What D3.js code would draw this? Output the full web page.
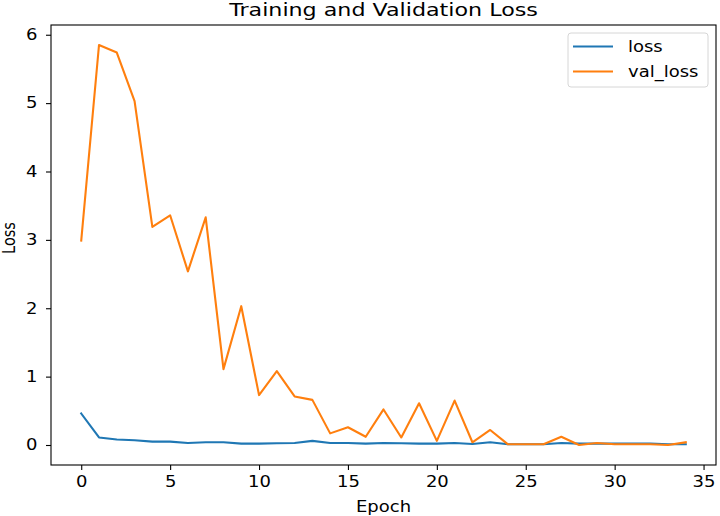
<!DOCTYPE html>
<html>
<head>
<meta charset="utf-8">
<script src="https://cdn.jsdelivr.net/npm/d3@7"></script>
<style>
  body { margin: 0; background: #fff; }
  svg { font-family: "DejaVu Sans", sans-serif; }
</style>
</head>
<body>
<svg width="720" height="516"></svg>
<script>
const epochs = d3.range(0, 35);
const loss = [0.46, 0.11, 0.08, 0.07, 0.05, 0.05, 0.03, 0.04, 0.04, 0.02,
  0.02, 0.025, 0.03, 0.06, 0.03, 0.03, 0.02, 0.03, 0.025, 0.02,
  0.02, 0.03, 0.015, 0.04, 0.01, 0.01, 0.01, 0.03, 0.02, 0.02,
  0.02, 0.02, 0.02, 0.01, 0.01];
const valLoss = [2.99, 5.85, 5.74, 5.03, 3.19, 3.36, 2.54, 3.33, 1.11, 2.03,
  0.73, 1.08, 0.71, 0.66, 0.17, 0.26, 0.12, 0.52, 0.11, 0.61,
  0.06, 0.65, 0.04, 0.22, 0.01, 0.01, 0.01, 0.12, 0.0, 0.03,
  0.01, 0.01, 0.01, 0.0, 0.04];
const xTicks = [0, 5, 10, 15, 20, 25, 30, 35];
const yTicks = [0, 1, 2, 3, 4, 5, 6];
const seriesNames = ['loss', 'val_loss'];
const colors = ['#1f77b4', '#ff7f0e'];

const svg = d3.select('svg');

marginLeft = 51
marginRight = 4
marginTop = 25
marginBottom = 51
width = 720
height = 516
stretch = 1.2 // the picture is a bit wider than the text it was drawn with

// matplotlib style 5% padding around the data
const xPad = (34 - 0) * 0.05;
const yMin = 0, yMax = 5.85;
const yPad = (yMax - yMin) * 0.05;

const x = d3.scaleLinear()
  .domain([0 - xPad, 34 + xPad])
  .range([marginLeft, width - marginRight]);
const y = d3.scaleLinear()
  .domain([yMin - yPad, yMax + yPad])
  .range([height - marginBottom, marginTop]);

// lines
const line = d3.line()
  .x((d, i) => x(epochs[i]))
  .y(d => y(d));

[loss, valLoss].forEach((s, k) => {
  svg.append('path')
    .datum(s)
    .attr('d', line)
    .attr('fill', 'none')
    .attr('stroke', colors[k])
    .attr('stroke-width', 2.1)
    .attr('stroke-linejoin', 'round')
    .attr('stroke-linecap', 'square');
});

// axes
const xAxis = svg.append('g')
  .attr('transform', `translate(0, ${height - marginBottom})`)
  .call(d3.axisBottom(x).tickValues(xTicks).tickFormat(d3.format('d')).tickSizeOuter(0).tickSize(5).tickPadding(6));
const yAxis = svg.append('g')
  .attr('transform', `translate(${marginLeft}, 0)`)
  .call(d3.axisLeft(y).tickValues(yTicks).tickFormat(d3.format('d')).tickSizeOuter(0).tickSize(5).tickPadding(6));

[xAxis, yAxis].forEach(g => {
  g.select('.domain').remove();
  g.selectAll('.tick line').attr('stroke', '#000').attr('stroke-width', 1.1);
  g.selectAll('.tick text')
    .attr('fill', '#000')
    .style('font-size', '15px')
    .style('font-family', '"DejaVu Sans", sans-serif')
    .attr('transform', `scale(${stretch},1)`);
});
yAxis.selectAll('.tick text').attr('x', -13.5 / stretch);

// frame
svg.append('rect')
  .attr('x', marginLeft)
  .attr('y', marginTop)
  .attr('width', width - marginRight - marginLeft)
  .attr('height', height - marginBottom - marginTop)
  .attr('fill', 'none')
  .attr('stroke', '#000')
  .attr('stroke-width', 1.1);

function addText(txt, tx, ty, size, anchor) {
  return svg.append('text')
    .text(txt)
    .attr('transform', `translate(${tx}, ${ty}) scale(${stretch},1)`)
    .attr('text-anchor', anchor)
    .style('font-size', size + 'px');
}

// title and labels
const cx = (marginLeft + width - marginRight) / 2;
addText('Training and Validation Loss', cx, 16, 18.5, 'middle');
addText('Epoch', cx, 511.5, 15, 'middle');

svg.append('text')
  .text('Loss')
  .attr('transform', `translate(15, ${(marginTop + height - marginBottom) / 2 - 7}) rotate(-90) scale(1,${stretch})`)
  .attr('text-anchor', 'middle')
  .style('font-size', '14.5px');

// legend
const legend = svg.append('g');
legend.append('rect')
  .attr('x', 568)
  .attr('y', 33)
  .attr('width', 140)
  .attr('height', 54)
  .attr('rx', 3)
  .attr('fill', '#fff')
  .attr('fill-opacity', 0.8)
  .attr('stroke', '#d6d6d6');

seriesNames.forEach((name, i) => {
  const ly = 46.5 + i * 25;
  legend.append('line')
    .attr('x1', 573).attr('x2', 613)
    .attr('y1', ly).attr('y2', ly)
    .attr('stroke', colors[i])
    .attr('stroke-width', 2.1);
  addText(name, 628, ly + 5.5, 15, 'start');
});
</script>
</body>
</html>
